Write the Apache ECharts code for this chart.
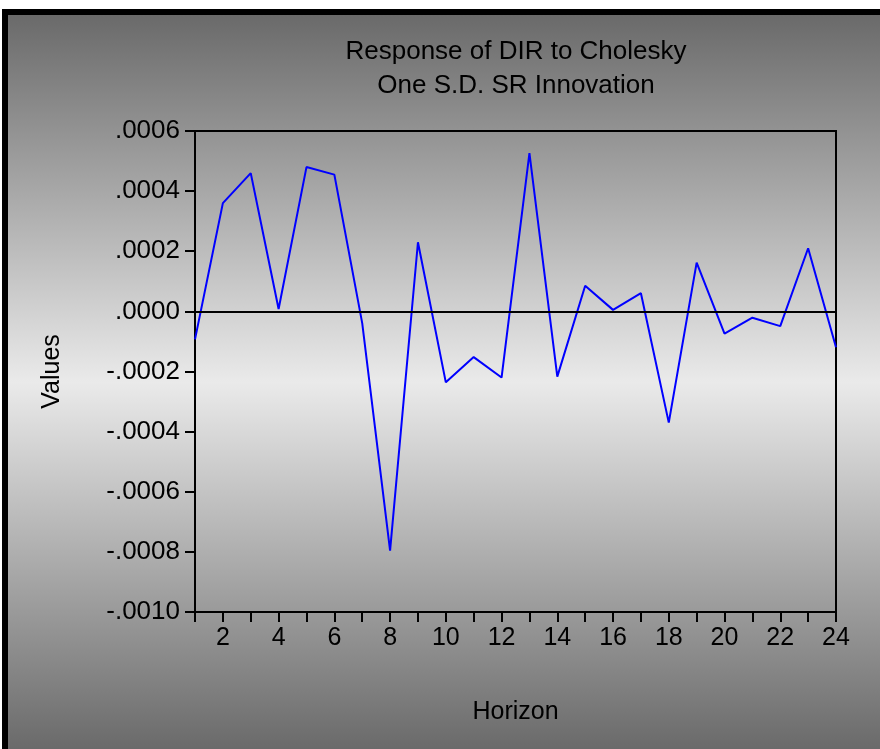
<!DOCTYPE html>
<html>
<head>
<meta charset="utf-8">
<script src="https://cdn.jsdelivr.net/npm/echarts@6/dist/echarts.min.js"></script>
<style>
  html, body { margin: 0; padding: 0; background: #ffffff; width: 880px; height: 749px; overflow: hidden; }
  #frame { position: absolute; left: 2px; top: 9px; border-left: 6px solid #000; border-top: 6px solid #000; }
  #chart { width: 872px; height: 734px; }
</style>
</head>
<body>
<div id="frame"><div id="chart"></div></div>
<script>
// Data
var horizons = [1,2,3,4,5,6,7,8,9,10,11,12,13,14,15,16,17,18,19,20,21,22,23,24];
var responses = [-0.000093, 0.00036, 0.00046, 0.000008, 0.00048, 0.000455, -0.000039, -0.000796,
                 0.00023, -0.000236, -0.000152, -0.00022, 0.000526, -0.000217, 0.000085, 0.000005,
                 0.0000605, -0.00037, 0.000162, -0.000074, -0.000021, -0.000049, 0.00021, -0.000119];
var titleLines = ['Response of DIR to Cholesky', 'One S.D. SR Innovation'];
var yTickMin = -0.0010, yTickMax = 0.0006, yTickStep = 0.0002;

var chart = echarts.init(document.getElementById('chart'), null, { renderer: 'canvas' });
var fontFam = '"Liberation Sans", Arial, sans-serif';

function fmtY(v) {
  var s = (Math.round(v * 1e4) / 1e4).toFixed(4);
  s = s.replace(/^(-?)0\./, '$1.');
  if (s === '-.0000') s = '.0000';
  return s;
}

chart.setOption({
  backgroundColor: {
    type: 'linear', x: 0, y: 0, x2: 0, y2: 1,
    colorStops: [
      { offset: 0, color: '#6a6a6a' },
      { offset: 0.5, color: '#eaeaea' },
      { offset: 1, color: '#6a6a6a' }
    ]
  },
  animation: false,
  title: {
    text: titleLines.join('\n'),
    left: 503, top: 15, textAlign: 'center',
    textStyle: { fontFamily: fontFam, fontSize: 26, fontWeight: 'normal', color: '#000', lineHeight: 34 }
  },
  grid: {
    left: 187, right: 44, top: 116, bottom: 137,
    show: true, borderColor: '#000', borderWidth: 2, backgroundColor: 'transparent'
  },
  xAxis: {
    type: 'value', min: 1, max: 24, interval: 1,
    name: 'Horizon', nameLocation: 'middle', nameGap: 88,
    nameTextStyle: { fontFamily: fontFam, fontSize: 25, color: '#000' },
    axisLine: { show: true, onZero: false, lineStyle: { color: '#000', width: 2 } },
    axisTick: { show: true, inside: false, length: 10, lineStyle: { color: '#000', width: 2 } },
    splitLine: { show: false },
    axisLabel: {
      margin: 14, color: '#000', fontFamily: fontFam, fontSize: 25,
      formatter: function (v) { return (v % 2 === 0) ? String(v) : ''; }
    }
  },
  yAxis: {
    type: 'value', min: yTickMin, max: yTickMax, interval: yTickStep,
    name: 'Values', nameLocation: 'middle', nameGap: 130, nameRotate: 90,
    nameTextStyle: { fontFamily: fontFam, fontSize: 25, color: '#000' },
    axisLine: { show: true, onZero: false, lineStyle: { color: '#000', width: 2 } },
    axisTick: { show: true, inside: false, length: 10, lineStyle: { color: '#000', width: 2 } },
    splitLine: { show: false },
    axisLabel: { margin: 15, color: '#000', fontFamily: fontFam, fontSize: 26, formatter: fmtY }
  },
  series: [{
    type: 'line',
    data: horizons.map(function (h, i) { return [h, responses[i]]; }),
    symbol: 'none',
    lineStyle: { color: '#0000ff', width: 2 },
    markLine: {
      silent: true, symbol: 'none', animation: false,
      label: { show: false },
      lineStyle: { color: '#000', width: 2, type: 'solid' },
      data: [{ yAxis: 0 }]
    },
    z: 3
  }]
});
</script>
</body>
</html>
